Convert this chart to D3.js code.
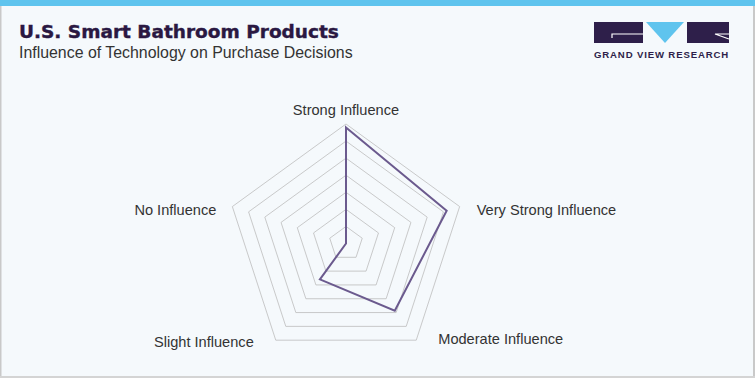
<!DOCTYPE html>
<html><head><meta charset="utf-8">
<script src="https://cdn.jsdelivr.net/npm/d3@7"></script>
<style>
html,body{margin:0;padding:0;background:#f5f9fc;}
svg{display:block;}
</style></head>
<body>
<svg id="c" width="755" height="378"></svg>
<script>
const categories = ["Strong Influence","Very Strong Influence","Moderate Influence","Slight Influence","No Influence"];
const values = [34, 31, 24.3, 13, 0];
const ringTicks = [5,10,15,20,25,30,35];
const title = "U.S. Smart Bathroom Products";
const subtitle = "Influence of Technology on Purchase Decisions";

const svg = d3.select("#c");
const W = 755, H = 378;
svg.append("rect").attr("width",W).attr("height",H).attr("fill","#f5f9fc");
svg.append("rect").attr("x",0).attr("y",0).attr("width",W).attr("height",6).attr("fill","#5fc4ee");
svg.append("rect").attr("x",0).attr("y",6).attr("width",1.5).attr("height",H-6).attr("fill","#c9c9c9");
svg.append("rect").attr("x",W-2).attr("y",6).attr("width",2).attr("height",H-6).attr("fill","#c9c9c9");
svg.append("rect").attr("x",0).attr("y",H-2).attr("width",W).attr("height",2).attr("fill","#d4d4d4");

svg.append("text").attr("x",19).attr("y",38).text(title)
  .attr("font-family","'DejaVu Sans', sans-serif").attr("font-weight","bold")
  .attr("font-size",18.5).attr("fill","#2a1842").attr("stroke","#2a1842").attr("stroke-width",0.4);
svg.append("text").attr("x",19).attr("y",57.5).text(subtitle)
  .attr("font-family","'Liberation Sans', Arial, sans-serif")
  .attr("font-size",15.9).attr("fill","#333");

// logo
const lg = svg.append("g");
const dark = "#2e1f4a";
lg.append("rect").attr("x",594).attr("y",22).attr("width",49).attr("height",21).attr("fill",dark);
lg.append("path").attr("d","M612,38 L612,34 L643,34").attr("fill","none").attr("stroke","#fff").attr("stroke-width",1.2);
lg.append("path").attr("d","M646,22 L684,22 L665,43 Z").attr("fill","#5fc4ee");
lg.append("rect").attr("x",687).attr("y",22).attr("width",42).attr("height",21).attr("fill",dark);
lg.append("path").attr("d","M729,34 L715,34 L729,39").attr("fill","none").attr("stroke","#fff").attr("stroke-width",1.2);
lg.append("text").attr("x",594).attr("y",58).text("GRAND VIEW RESEARCH")
  .attr("font-family","'Liberation Sans', Arial, sans-serif").attr("font-weight","bold")
  .attr("font-size",9.6).attr("letter-spacing","0.85").attr("fill",dark);

// radar
const cx = 346, cy = 243.5, R = 119.5;
const r = d3.scaleLinear().domain([0,35]).range([0,R]);
const n = categories.length;
const ang = i => i*2*Math.PI/n - Math.PI/2;
const pt = (i,v) => [cx + r(v)*Math.cos(ang(i)), cy + r(v)*Math.sin(ang(i))];
const g = svg.append("g");
ringTicks.forEach(t=>{
  g.append("polygon").attr("points", d3.range(n).map(i=>pt(i,t).join(",")).join(" "))
   .attr("fill","none").attr("stroke","#bdbdbd").attr("stroke-width",0.8);
});
const line = d3.line().curve(d3.curveLinearClosed);
g.append("path").attr("d", line(values.map((v,i)=>pt(i,v))))
  .attr("fill","none").attr("stroke","#6b5a8e").attr("stroke-width",2).attr("stroke-linejoin","miter");

const labOff = [[0,-14,"middle"],[17,3,"start"],[22,-1,"start"],[-22,2,"end"],[-16,3,"end"]];
categories.forEach((c,i)=>{
  const p = pt(i,35);
  svg.append("text").attr("x",p[0]+labOff[i][0]).attr("y",p[1]+labOff[i][1])
    .attr("text-anchor",labOff[i][2]).attr("dominant-baseline","central")
    .attr("font-family","'Liberation Sans', Arial, sans-serif").attr("font-size",14.6)
    .attr("fill","#333").text(c);
});
</script>
</body></html>
